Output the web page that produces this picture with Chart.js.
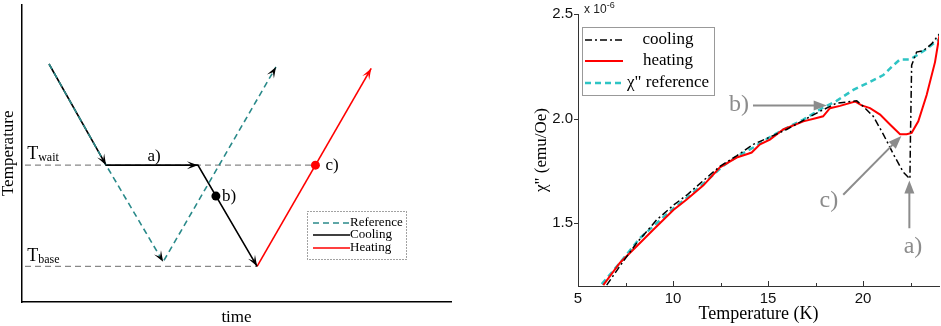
<!DOCTYPE html>
<html>
<head>
<meta charset="utf-8">
<script src="https://cdn.jsdelivr.net/npm/chart.js@4.4.0/dist/chart.umd.min.js"></script>
<style>
body { margin: 0; background: #fff; }
#wrap { position: relative; width: 941px; height: 326px; }
canvas { position: absolute; top: 0; }
#scheme { left: 0; }
#chi { left: 470px; }
</style>
</head>
<body>
<div id="wrap">
  <canvas id="scheme" width="470" height="326"></canvas>
  <canvas id="chi" width="471" height="326"></canvas>
</div>
<script>
// left panel: schematic of the temperature protocol (arbitrary units)
const tWait = 46;
const tBase = 12;
const refTime = [6.3, 19.6, 32.9, 59.2];
const refTemp = [80, 46, 13.5, 79];
const coolTime = [6.3, 19.6, 41.0, 54.8];
const coolTemp = [80, 46, 46, 12];
const heatTime = [54.8, 81.4];
const heatTemp = [12, 78.5];
const waitLineTime = [0.7, 68.4];
const baseLineTime = [0.7, 54.8];
const pointB = [45.2, 35.6];
const pointC = [68.4, 46];

// right panel: chi'' vs temperature, in units of 1e-6 emu/Oe
const coolT = [6.51, 7.21, 8.09, 9.14, 10.02, 10.72, 11.6, 12.47, 13.35, 14.23, 15.1, 15.98, 16.86, 17.74, 18.61, 19.67, 20.02, 20.54, 21.07, 21.6, 22.12, 22.47, 22.5, 22.56, 22.82, 23.18, 23.61, 24.02];
const coolChi = [1.204, 1.296, 1.406, 1.516, 1.586, 1.634, 1.704, 1.772, 1.822, 1.877, 1.912, 1.948, 1.992, 2.035, 2.074, 2.085, 2.058, 2.011, 1.925, 1.83, 1.744, 1.712, 1.925, 2.255, 2.318, 2.325, 2.357, 2.404];
const heatT = [6.33, 7.21, 8.09, 8.96, 10.02, 10.72, 11.6, 12.47, 13.35, 13.88, 14.14, 14.58, 15.1, 15.8, 16.86, 17.56, 17.9, 18.26, 18.79, 19.58, 19.93, 20.37, 20.9, 21.42, 21.95, 22.3, 22.56, 22.91, 23.35, 23.79, 24.02];
const heatChi = [1.204, 1.311, 1.39, 1.469, 1.563, 1.613, 1.681, 1.767, 1.814, 1.83, 1.838, 1.877, 1.9, 1.948, 1.987, 2.003, 2.011, 2.05, 2.061, 2.082, 2.063, 2.05, 2.019, 1.972, 1.925, 1.925, 1.932, 1.987, 2.113, 2.27, 2.396];
const refT = [6.25, 7.21, 8.26, 10.02, 10.9, 11.6, 12.65, 13.35, 14.23, 15.1, 16.16, 16.86, 17.91, 18.61, 19.49, 20.37, 21.07, 21.6, 21.95, 22.47, 22.82, 23.35, 24.02];
const refChi = [1.209, 1.311, 1.429, 1.571, 1.634, 1.689, 1.775, 1.818, 1.862, 1.912, 1.964, 1.995, 2.053, 2.085, 2.137, 2.176, 2.208, 2.255, 2.283, 2.283, 2.302, 2.333, 2.381];

const xTicks = [5, 10, 15, 20];
const xMinor = [7.5, 12.5, 17.5, 22.5];
const yTicks = [1.5, 2.0, 2.5];

const pts = (xs, ys) => xs.map((x, i) => ({ x: x, y: ys[i] }));
const SERIF = '"Liberation Serif", "DejaVu Serif", serif';
const SANS = '"Liberation Sans", Arial, sans-serif';

function arrowHead(ctx, x0, y0, x1, y1, len, half, notch, color) {
    const a = Math.atan2(y1 - y0, x1 - x0);
    ctx.save();
    ctx.translate(x1, y1);
    ctx.rotate(a);
    ctx.beginPath();
    ctx.moveTo(0, 0);
    ctx.lineTo(-len, -half);
    ctx.lineTo(-len * notch, 0);
    ctx.lineTo(-len, half);
    ctx.closePath();
    ctx.fillStyle = color;
    ctx.fill();
    ctx.restore();
}

// arrowheads at the ends of segments, taken from the drawn points
const segmentArrows = {
    id: 'segmentArrows',
    afterDatasetsDraw(chart) {
        const ctx = chart.ctx;
        chart.data.datasets.forEach((ds, i) => {
            if (!ds.arrows) return;
            const meta = chart.getDatasetMeta(i);
            ds.arrows.forEach(k => {
                const p0 = meta.data[k - 1], p1 = meta.data[k];
                arrowHead(ctx, p0.x, p0.y, p1.x, p1.y, 11, 4, 0.55, ds.arrowColor || ds.borderColor);
            });
        });
    }
};

// little boxed legend drawn from the datasets' own line styles
const boxLegend = {
    id: 'boxLegend',
    afterDraw(chart, args, opts) {
        if (!opts.box) return;
        const ctx = chart.ctx;
        const [bx, by, bw, bh] = opts.box;
        ctx.save();
        ctx.strokeStyle = opts.borderColor;
        ctx.lineWidth = 1;
        ctx.setLineDash(opts.borderDash || []);
        ctx.strokeRect(bx + 0.5, by + 0.5, bw, bh);
        ctx.font = opts.font;
        ctx.textBaseline = 'middle';
        opts.rows.forEach((row, r) => {
            const ds = chart.data.datasets[row.index];
            const y = opts.rowY[r];
            ctx.strokeStyle = ds.borderColor;
            ctx.lineWidth = ds.borderWidth;
            ctx.setLineDash(ds.borderDash || []);
            ctx.beginPath();
            ctx.moveTo(opts.lineX[0], y);
            ctx.lineTo(opts.lineX[1], y);
            ctx.stroke();
            ctx.fillStyle = '#000';
            ctx.textAlign = opts.textAlign;
            ctx.fillText(row.text, opts.textX, y);
        });
        ctx.restore();
    }
};

// texts and callouts in data coordinates
const notes = {
    id: 'notes',
    afterDraw(chart, args, opts) {
        const ctx = chart.ctx;
        const xs = chart.scales.x, ys = chart.scales.y;
        ctx.save();
        (opts.arrows || []).forEach(a => {
            const x0 = xs.getPixelForValue(a.from[0]), y0 = ys.getPixelForValue(a.from[1]);
            const x1 = xs.getPixelForValue(a.to[0]), y1 = ys.getPixelForValue(a.to[1]);
            const ang = Math.atan2(y1 - y0, x1 - x0);
            ctx.strokeStyle = a.color;
            ctx.lineWidth = 2;
            ctx.beginPath();
            ctx.moveTo(x0, y0);
            ctx.lineTo(x1 - Math.cos(ang) * 8, y1 - Math.sin(ang) * 8);
            ctx.stroke();
            arrowHead(ctx, x0, y0, x1, y1, 13, 5, 1, a.color);
        });
        (opts.texts || []).forEach(t => {
            let x = xs.getPixelForValue(t.at[0]) + (t.dx || 0);
            const y = ys.getPixelForValue(t.at[1]) + (t.dy || 0);
            ctx.fillStyle = t.color || '#000';
            ctx.font = t.font;
            ctx.textAlign = t.align || 'left';
            ctx.textBaseline = t.baseline || 'alphabetic';
            ctx.fillText(t.text, x, y);
            if (t.sub) {
                x += ctx.measureText(t.text).width;
                ctx.font = t.subFont;
                ctx.textAlign = 'left';
                ctx.fillText(t.sub, x, y + t.subDy);
            }
        });
        ctx.restore();
    }
};

// inward tick marks of the right panel
const inwardTicks = {
    id: 'inwardTicks',
    afterDraw(chart) {
        const ctx = chart.ctx;
        const xs = chart.scales.x, ys = chart.scales.y;
        const area = chart.chartArea;
        ctx.save();
        ctx.strokeStyle = '#333';
        ctx.lineWidth = 1;
        ctx.beginPath();
        xTicks.forEach(v => { const x = Math.round(xs.getPixelForValue(v)) + 0.5; ctx.moveTo(x, area.bottom); ctx.lineTo(x, area.bottom - 5); });
        xMinor.forEach(v => { const x = Math.round(xs.getPixelForValue(v)) + 0.5; ctx.moveTo(x, area.bottom); ctx.lineTo(x, area.bottom - 3); });
        yTicks.forEach(v => { const y = Math.round(ys.getPixelForValue(v)) + 0.5; ctx.moveTo(area.left - 4, y); ctx.lineTo(area.left, y); });
        ctx.stroke();
        // multiplier above the axis
        ctx.fillStyle = '#222';
        ctx.textAlign = 'left';
        ctx.textBaseline = 'alphabetic';
        ctx.font = '12px ' + SANS;
        ctx.fillText('x 10', area.left + 6, 13);
        const w = ctx.measureText('x 10').width;
        ctx.font = '9px ' + SANS;
        ctx.fillText('-6', area.left + 6 + w, 8);
        ctx.restore();
    }
};

const base = {
    responsive: false,
    animation: false,
    events: [],
    elements: { point: { radius: 0 }, line: { tension: 0 } }
};

// ---------- left: schematic ----------
new Chart(document.getElementById('scheme').getContext('2d'), {
    type: 'line',
    data: {
        datasets: [
            { label: 'Reference', data: pts(refTime, refTemp), borderColor: '#2a8a8a', borderWidth: 1.6, borderDash: [6, 4], arrows: [2, 3], arrowColor: '#000' },
            { label: 'Cooling', data: pts(coolTime, coolTemp), borderColor: '#000', borderWidth: 1.6, arrows: [1, 2, 3] },
            { label: 'Heating', data: pts(heatTime, heatTemp), borderColor: '#ff0000', borderWidth: 1.6, arrows: [1] },
            { data: pts([pointB[0]], [pointB[1]]), showLine: false, pointRadius: 4.5, pointBackgroundColor: '#000', pointBorderWidth: 0 },
            { data: pts([pointC[0]], [pointC[1]]), showLine: false, pointRadius: 4.5, pointBackgroundColor: '#ff0000', pointBorderWidth: 0 },
            { data: pts(waitLineTime, [tWait, tWait]), borderColor: '#888', borderWidth: 1.2, borderDash: [6, 4] },
            { data: pts(baseLineTime, [tBase, tBase]), borderColor: '#888', borderWidth: 1.2, borderDash: [6, 4] }
        ]
    },
    options: Object.assign({}, base, {
        layout: { padding: { top: 4, right: 19, left: 0, bottom: 0 } },
        scales: {
            x: {
                type: 'linear', min: 0, max: 100,
                grid: { display: false, drawTicks: false },
                border: { display: true, color: '#000', width: 1.5 },
                ticks: { display: false },
                title: { display: true, text: 'time', color: '#000', font: { family: SERIF, size: 17, lineHeight: 1 }, padding: { top: 0, bottom: 0 } },
                afterFit(s) { s.height = 24; }
            },
            y: {
                type: 'linear', min: 0, max: 100,
                grid: { display: false, drawTicks: false },
                border: { display: true, color: '#000', width: 1.5 },
                ticks: { display: false },
                title: { display: true, text: 'Temperature', color: '#000', font: { family: SERIF, size: 17, lineHeight: 1 }, padding: { top: 0, bottom: 0 } },
                afterFit(s) { s.width = 22; }
            }
        },
        plugins: {
            legend: { display: false },
            tooltip: { enabled: false },
            boxLegend: {
                box: [307, 211, 99, 48],
                borderColor: '#444',
                borderDash: [1, 2],
                font: '13px ' + SERIF,
                lineX: [313, 350],
                textX: 350,
                textAlign: 'left',
                rowY: [223, 235, 248],
                rows: [{ index: 0, text: 'Reference' }, { index: 1, text: 'Cooling' }, { index: 2, text: 'Heating' }]
            },
            notes: {
                texts: [
                    { text: 'T', sub: 'wait', at: [1.2, tWait], dy: -6, font: '18px ' + SERIF, subFont: '12px ' + SERIF, subDy: 2 },
                    { text: 'T', sub: 'base', at: [1.2, tBase], dy: -5, font: '18px ' + SERIF, subFont: '12px ' + SERIF, subDy: 2 },
                    { text: 'a)', at: [30.8, tWait], dy: -4, align: 'center', font: '17px ' + SERIF },
                    { text: 'b)', at: pointB, dx: 6, baseline: 'middle', font: '17px ' + SERIF },
                    { text: 'c)', at: pointC, dx: 10, baseline: 'middle', font: '17px ' + SERIF }
                ]
            }
        }
    }),
    plugins: [segmentArrows, boxLegend, notes]
});

// ---------- right: chi'' vs T ----------
new Chart(document.getElementById('chi').getContext('2d'), {
    type: 'line',
    data: {
        datasets: [
            { label: 'cooling', data: pts(coolT, coolChi), borderColor: '#000', borderWidth: 1.5, borderDash: [7, 3, 2, 3] },
            { label: 'heating', data: pts(heatT, heatChi), borderColor: '#ff0000', borderWidth: 2 },
            { label: 'χ" reference', data: pts(refT, refChi), borderColor: '#2ec4c4', borderWidth: 2.5, borderDash: [6, 4] }
        ]
    },
    options: Object.assign({}, base, {
        layout: { padding: { top: 12, right: 2, left: 0, bottom: 0 } },
        scales: {
            x: {
                type: 'linear', min: 5, max: 24,
                grid: { display: false, drawTicks: false },
                border: { display: true, color: '#333', width: 1 },
                afterBuildTicks(s) { s.ticks = xTicks.map(v => ({ value: v })); },
                ticks: { color: '#111', font: { family: SANS, size: 15 }, padding: 4, maxRotation: 0 },
                title: { display: true, text: 'Temperature (K)', color: '#000', font: { family: SERIF, size: 18, lineHeight: 1 }, padding: { top: 0, bottom: 3 } },
                afterFit(s) { s.height = 40; }
            },
            y: {
                type: 'linear', min: 1.2, max: 2.5,
                grid: { display: false, drawTicks: false },
                border: { display: true, color: '#333', width: 1 },
                afterBuildTicks(s) { s.ticks = yTicks.map(v => ({ value: v })); },
                ticks: { color: '#111', font: { family: SANS, size: 15 }, padding: 5, callback: v => v.toFixed(1) },
                title: { display: true, text: 'χ" (emu/Oe)', color: '#000', font: { family: SERIF, size: 17, lineHeight: 1 }, padding: { top: 63, bottom: 0 } },
                afterFit(s) { s.width = 108; }
            }
        },
        plugins: {
            legend: { display: false },
            tooltip: { enabled: false },
            boxLegend: {
                box: [112, 27, 132, 68],
                borderColor: '#999',
                font: '17px ' + SERIF,
                lineX: [115, 153],
                textX: 198,
                textAlign: 'center',
                rowY: [40, 61, 83],
                rows: [{ index: 0, text: 'cooling' }, { index: 1, text: 'heating' }, { index: 2, text: 'χ" reference' }]
            },
            notes: {
                arrows: [
                    { from: [14.21, 2.063], to: [18.09, 2.063], color: '#8c8c8c' },
                    { from: [18.96, 1.636], to: [22.02, 1.917], color: '#8c8c8c' },
                    { from: [22.44, 1.476], to: [22.44, 1.704], color: '#8c8c8c' }
                ],
                texts: [
                    { text: 'b)', at: [13.47, 2.068], align: 'center', baseline: 'middle', color: '#8c8c8c', font: '24px ' + SERIF },
                    { text: 'c)', at: [18.2, 1.61], align: 'center', baseline: 'middle', color: '#8c8c8c', font: '24px ' + SERIF },
                    { text: 'a)', at: [22.63, 1.39], align: 'center', baseline: 'middle', color: '#8c8c8c', font: '24px ' + SERIF }
                ]
            }
        }
    }),
    plugins: [boxLegend, notes, inwardTicks]
});
</script>
</body>
</html>
